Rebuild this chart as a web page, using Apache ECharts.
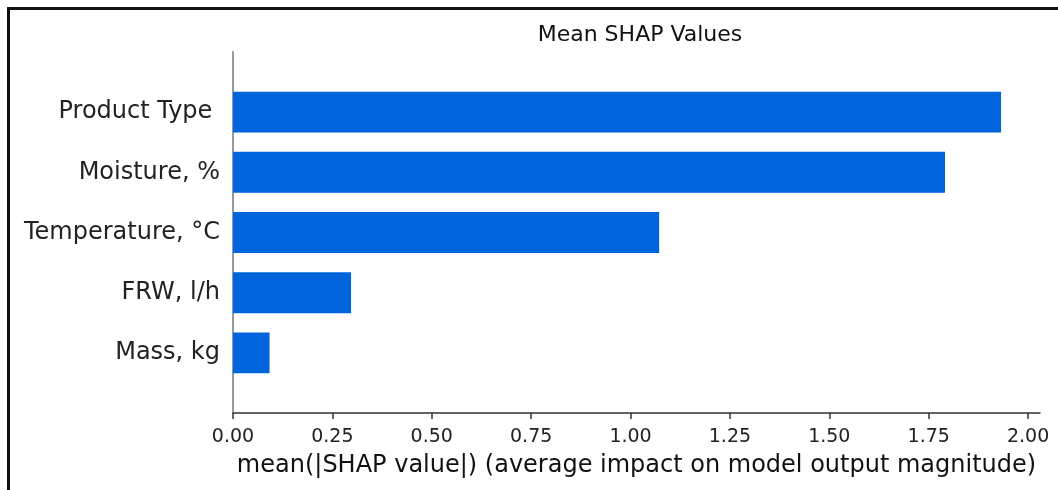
<!DOCTYPE html>
<html>
<head>
<meta charset="utf-8">
<script src="https://cdn.jsdelivr.net/npm/echarts@6/dist/echarts.min.js"></script>
<style>
  body { margin: 0; background: #fff; }
  #wrap { position: relative; width: 1058px; height: 490px; overflow: hidden; }
  #chart { position: absolute; left: 0; top: 0; width: 1058px; height: 490px; }
  #frame { position: absolute; left: 7px; top: 7px; width: 1100px; height: 600px;
           border-top: 3px solid #111; border-left: 3px solid #111; pointer-events: none; }
</style>
</head>
<body>
<div id="wrap">
  <div id="chart"></div>
  <div id="frame"></div>
</div>
<script>
// feature names, top to bottom
const features = ['Product Type ', 'Moisture, %', 'Temperature, °C', 'FRW, l/h', 'Mass, kg'];
// mean(|SHAP value|) per feature
const shapValues = [1.932, 1.791, 1.072, 0.297, 0.092];
// x axis ticks
const xTicks = [0, 0.25, 0.5, 0.75, 1.0, 1.25, 1.5, 1.75, 2.0];

const chart = echarts.init(document.getElementById('chart'));
const font = 'DejaVu Sans';
const xMax = 2.03;

const option = {
  animation: false,
  title: {
    text: 'Mean SHAP Values',
    left: 635,
    textAlign: 'center',
    top: 19,
    textStyle: { fontFamily: font, fontSize: 22, fontWeight: 'normal', color: '#111' }
  },
  grid: [
    // outer frame: spines and x axis
    { left: 233, right: 18, top: 52, bottom: 77 },
    // inner area holding the bars (half a band of padding top and bottom)
    { left: 233, right: 18, top: 82, height: 301 }
  ],
  xAxis: [
    {
      gridIndex: 0,
      type: 'value',
      min: 0,
      max: xMax,
      name: 'mean(|SHAP value|) (average impact on model output magnitude)',
      nameLocation: 'middle',
      nameGap: 41,
      nameTextStyle: { fontFamily: font, fontSize: 24, color: '#111' },
      axisLine: { show: true, lineStyle: { color: '#333', width: 1.5 } },
      axisTick: { show: true, length: 6, lineStyle: { color: '#333', width: 1.5 }, customValues: xTicks },
      axisLabel: {
        fontFamily: font, fontSize: 19, color: '#222', margin: 15,
        customValues: xTicks,
        formatter: v => v.toFixed(2)
      },
      splitLine: { show: false }
    },
    {
      gridIndex: 1,
      type: 'value',
      min: 0,
      max: xMax,
      show: false
    }
  ],
  yAxis: [
    {
      gridIndex: 0,
      type: 'value',
      min: 0,
      max: 1,
      axisLine: { show: true, lineStyle: { color: '#999', width: 2 } },
      axisTick: { show: false },
      axisLabel: { show: false },
      splitLine: { show: false }
    },
    {
      gridIndex: 1,
      type: 'category',
      inverse: true,
      data: features,
      axisLine: { show: false },
      axisTick: { show: false },
      axisLabel: { fontFamily: font, fontSize: 24, color: '#222', margin: 13 },
      splitLine: { show: false }
    }
  ],
  series: [
    {
      type: 'bar',
      xAxisIndex: 1,
      yAxisIndex: 1,
      data: shapValues,
      barWidth: '68%',
      itemStyle: { color: '#0064DC' }
    }
  ]
};

chart.setOption(option);
</script>
</body>
</html>
